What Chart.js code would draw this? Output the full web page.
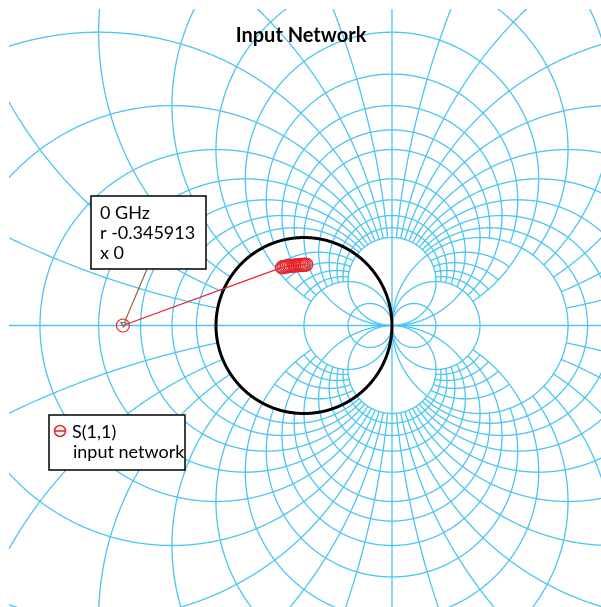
<!DOCTYPE html>
<html>
<head>
<meta charset="utf-8">
<script src="https://cdn.jsdelivr.net/npm/chart.js@4.4.1/dist/chart.umd.min.js"></script>
<style>
  html, body { margin: 0; padding: 0; background: #ffffff; }
  #wrap { width: 601px; height: 607px; position: relative; }
</style>
</head>
<body>
<div id="wrap"><canvas id="smith"></canvas></div>
<script>
// ---- S(1,1) of the input network (reflection coefficient, re / im) ----
const freqGHz = [0, 1, 2, 3, 4, 5, 6, 7, 8, 9, 10, 11, 12, 13, 14, 15];
const s11Re = [-2.057698, -0.250, -0.232, -0.212, -0.193, -0.172, -0.152, -0.131,
               -0.110, -0.090, -0.070, -0.050, -0.030, -0.011, 0.008, 0.026];
const s11Im = [0, 0.660, 0.665, 0.669, 0.672, 0.675, 0.677, 0.679,
               0.681, 0.683, 0.685, 0.686, 0.688, 0.689, 0.691, 0.692];

// ---- Smith grid values (normalised impedance) ----
// complete circles
const gridRFull = [1, 3, -2, -3, -5];
const gridXFull = [1, 2];
// negative-resistance arcs, drawn for |x| up to 2
const gridRNeg = [-0.1, -0.2, -0.3, -0.4, -0.5, -0.6, -0.7, -0.8, -0.9,
                  -1.1, -1.2, -1.3, -1.4, -1.5, -1.6, -1.7, -1.8, -1.9];
const negXSpan = [-2, 2];
// inner resistance arcs (and their mirror images), drawn for 0.6 <= |x| <= 2
const gridRInner = [0.2, 0.4, 0.6, 0.8, -2.2, -2.4, -2.6, -2.8];
const innerXSpan = [0.6, 2];
// reactance arcs that stop on the r = 0 / r = -2 circles
const gridXShort = [0.1, 0.2, 0.3, 0.4, 0.5, 0.7, 0.9];
const shortRSpan = [-2, 0];
// reactance arcs that continue across them
const gridXLong = [0.6, 0.8, 1.2, 1.4, 1.6, 1.8];
const longRSpan = [-3, 1];

const titleText = 'Input Network';
const legendLines = ['S(1,1)', 'input network'];

// ---- helpers ----
function gammaFromZ(r, x) {
  const dr = r + 1, den = dr * dr + x * x, nr = r - 1;
  return [(nr * dr + x * x) / den, (x * dr - nr * x) / den];
}
function zFromGamma(a, b) {
  const den = (1 - a) * (1 - a) + b * b;
  return [(1 - a * a - b * b) / den, 2 * b / den];
}
const TAU = 2 * Math.PI;
const norm = (v) => { v %= TAU; return v < 0 ? v + TAU : v; };

const GRID_COLOR = '#4cc6f1';

// polyline along a circle (data units) projected through the chart scales
function strokeDataArc(ctx, xs, ys, cx, cy, R, a0, a1) {
  const n = Math.max(80, Math.ceil(Math.abs(a1 - a0) * 240));
  ctx.beginPath();
  for (let i = 0; i <= n; i++) {
    const t = a0 + (a1 - a0) * i / n;
    const px = xs.getPixelForValue(cx + R * Math.cos(t));
    const py = ys.getPixelForValue(cy + R * Math.sin(t));
    if (i === 0) ctx.moveTo(px, py); else ctx.lineTo(px, py);
  }
  ctx.stroke();
}
function sweep(ctx, xs, ys, cx, cy, R, a0, a1, am) {
  const d1 = norm(a1 - a0), dm = norm(am - a0);
  if (dm <= d1) strokeDataArc(ctx, xs, ys, cx, cy, R, a0, a0 + d1);
  else strokeDataArc(ctx, xs, ys, cx, cy, R, a0, a0 - (TAU - d1));
}
// arc of constant r between reactances x0 and x1
function rArc(ctx, xs, ys, r, x0, x1) {
  const c = r / (r + 1), R = Math.abs(1 / (r + 1));
  const ang = (x) => { const g = gammaFromZ(r, x); return Math.atan2(g[1], g[0] - c); };
  sweep(ctx, xs, ys, c, 0, R, ang(x0), ang(x1), ang((x0 + x1) / 2));
}
// arc of constant x between resistances r0 and r1
function xArc(ctx, xs, ys, x, r0, r1) {
  const cy = 1 / x, R = Math.abs(1 / x);
  const ang = (r) => { const g = gammaFromZ(r, x); return Math.atan2(g[1] - cy, g[0] - 1); };
  sweep(ctx, xs, ys, 1, cy, R, ang(r0), ang(r1), ang((r0 + r1) / 2));
}

const smithGrid = {
  id: 'smithGrid',
  beforeDatasetsDraw(chart) {
    const { ctx, chartArea: ca, scales: { x: xs, y: ys } } = chart;
    ctx.save();
    ctx.beginPath();
    ctx.rect(ca.left, ca.top, ca.right - ca.left, ca.bottom - ca.top);
    ctx.clip();
    ctx.strokeStyle = GRID_COLOR;
    ctx.lineWidth = 1.3;

    // real axis (x = 0) and the r = -1 line
    ctx.beginPath();
    ctx.moveTo(ca.left, ys.getPixelForValue(0));
    ctx.lineTo(ca.right, ys.getPixelForValue(0));
    ctx.moveTo(xs.getPixelForValue(1), ca.top);
    ctx.lineTo(xs.getPixelForValue(1), ca.bottom);
    ctx.stroke();

    for (const r of gridRFull) {
      strokeDataArc(ctx, xs, ys, r / (r + 1), 0, Math.abs(1 / (r + 1)), 0, TAU);
    }
    for (const xv of gridXFull) {
      for (const s of [1, -1]) {
        const x = xv * s;
        strokeDataArc(ctx, xs, ys, 1, 1 / x, Math.abs(1 / x), 0, TAU);
      }
    }
    for (const r of gridRNeg) rArc(ctx, xs, ys, r, negXSpan[0], negXSpan[1]);
    for (const r of gridRInner) {
      rArc(ctx, xs, ys, r, innerXSpan[0], innerXSpan[1]);
      rArc(ctx, xs, ys, r, -innerXSpan[1], -innerXSpan[0]);
    }
    for (const xv of gridXShort) {
      xArc(ctx, xs, ys, xv, shortRSpan[0], shortRSpan[1]);
      xArc(ctx, xs, ys, -xv, shortRSpan[0], shortRSpan[1]);
    }
    for (const xv of gridXLong) {
      xArc(ctx, xs, ys, xv, longRSpan[0], longRSpan[1]);
      xArc(ctx, xs, ys, -xv, longRSpan[0], longRSpan[1]);
    }

    // unit circle (r = 0)
    ctx.strokeStyle = '#000000';
    ctx.lineWidth = 3;
    strokeDataArc(ctx, xs, ys, 0, 0, 1, 0, TAU);
    ctx.restore();
  }
};

const FONT = 'Lato, "Open Sans", sans-serif';

const overlay = {
  id: 'overlay',
  afterDatasetsDraw(chart) {
    const { ctx, scales: { x: xs, y: ys } } = chart;
    ctx.save();
    // title
    ctx.fillStyle = '#000';
    ctx.font = 'bold 20px ' + FONT;
    ctx.textAlign = 'center';
    ctx.textBaseline = 'alphabetic';
    ctx.fillText(titleText, 301, 42);

    // marker box for the first sweep point
    const z0 = zFromGamma(s11Re[0], s11Im[0]);
    const px = xs.getPixelForValue(s11Re[0]), py = ys.getPixelForValue(s11Im[0]);
    const fmt = (v) => (Math.abs(v) < 1e-12 ? '0' : v.toFixed(6));
    const lines = [freqGHz[0] + ' GHz', 'r ' + fmt(z0[0]), 'x ' + fmt(z0[1])];
    const bx = 91, by = 196, bw = 115, bh = 73;
    ctx.strokeStyle = '#8a6a4a';
    ctx.lineWidth = 1.2;
    ctx.beginPath();
    ctx.moveTo(147, by + bh);
    ctx.lineTo(px + 1.5, py - 3);
    ctx.stroke();
    ctx.beginPath();
    ctx.moveTo(px + 0.5, py + 1.5);
    ctx.lineTo(px - 2, py - 3);
    ctx.lineTo(px + 3.5, py - 2.5);
    ctx.closePath();
    ctx.stroke();

    ctx.fillStyle = '#fff';
    ctx.fillRect(bx, by, bw, bh);
    ctx.strokeStyle = '#000';
    ctx.lineWidth = 1.5;
    ctx.strokeRect(bx, by, bw, bh);
    ctx.fillStyle = '#000';
    ctx.font = '18px ' + FONT;
    ctx.textAlign = 'left';
    lines.forEach((t, i) => ctx.fillText(t, 100, 219 + i * 20));

    // legend
    const lx = 49, ly = 415, lw = 136, lh = 55;
    ctx.fillStyle = '#fff';
    ctx.fillRect(lx, ly, lw, lh);
    ctx.strokeStyle = '#000';
    ctx.lineWidth = 1.5;
    ctx.strokeRect(lx, ly, lw, lh);
    ctx.strokeStyle = '#e8232b';
    ctx.lineWidth = 1.5;
    ctx.beginPath();
    ctx.arc(60, 431, 5.5, 0, TAU);
    ctx.moveTo(54.5, 431);
    ctx.lineTo(65.5, 431);
    ctx.stroke();
    ctx.fillStyle = '#000';
    ctx.font = '18px ' + FONT;
    ctx.fillText(legendLines[0], 72, 438);
    ctx.fillText(legendLines[1], 73, 458);
    ctx.restore();
  }
};

const points = s11Re.map((v, i) => ({ x: v, y: s11Im[i] }));

new Chart(document.getElementById('smith'), {
  type: 'scatter',
  data: {
    datasets: [{
      label: legendLines[0],
      data: points,
      showLine: true,
      borderColor: '#e8232b',
      borderWidth: 1.3,
      pointStyle: 'circle',
      pointRadius: 6.5,
      pointBorderWidth: 1.2,
      pointBorderColor: '#e8232b',
      pointBackgroundColor: 'rgba(0,0,0,0)',
      tension: 0
    }]
  },
  options: {
    responsive: true,
    maintainAspectRatio: false,
    animation: false,
    layout: { autoPadding: false, padding: { left: 9, top: 9, right: 0, bottom: 0 } },
    scales: {
      x: { type: 'linear', display: false, min: -3.352, max: 3.375 },
      y: { type: 'linear', display: false, min: -3.199, max: 3.597 }
    },
    plugins: { legend: { display: false }, tooltip: { enabled: false }, title: { display: false } }
  },
  plugins: [smithGrid, overlay]
});
</script>
</body>
</html>
